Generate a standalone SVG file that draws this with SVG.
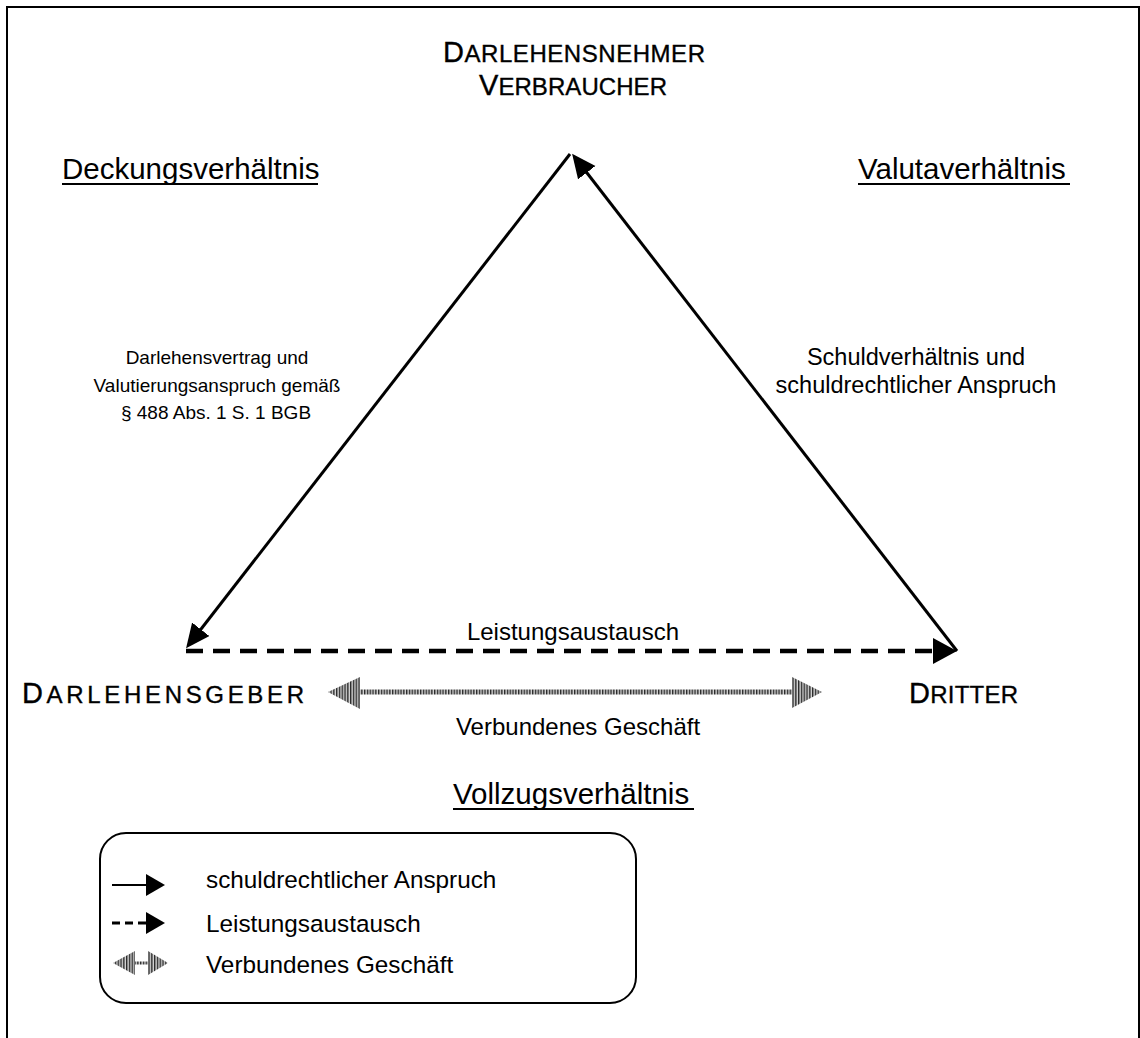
<svg xmlns="http://www.w3.org/2000/svg" width="1140" height="1038" viewBox="0 0 1140 1038">
  <style>
    text { font-family: "Liberation Sans", Arial, sans-serif; fill: #000; }
    .party { font-size: 24px; stroke: #000; stroke-width: 0.35; }
    .party .ini { font-size: 29px; }
    .heading { font-size: 29.5px; }
    .label { font-size: 19px; }
    .label-lg { font-size: 23.5px; }
    .mid { font-size: 24px; }
    .key { font-size: 24.3px; }
    .frame { fill: none; stroke: #000; stroke-width: 2; }
    .uline { stroke: #000; stroke-width: 2; }
    .claim { fill: none; stroke: #000; stroke-width: 3; }
    .exchange { fill: none; stroke: #000; stroke-width: 4.5; stroke-dasharray: 17 10; }
    .exchange-key { fill: none; stroke: #000; stroke-width: 3; stroke-dasharray: 8 5; }
    .link { fill: url(#stripes); }
  </style>
  <defs>
    <marker id="head" markerUnits="userSpaceOnUse" markerWidth="26" markerHeight="24" refX="16" refY="11" orient="auto">
      <path d="M0,0 L24,11 L0,22 Z" fill="#000"/>
    </marker>
    <marker id="head-wide" markerUnits="userSpaceOnUse" markerWidth="26" markerHeight="28" refX="16" refY="13" orient="auto">
      <path d="M0,0 L24,13 L0,26 Z" fill="#000"/>
    </marker>
    <marker id="head-key" markerUnits="userSpaceOnUse" markerWidth="20" markerHeight="24" refX="10" refY="11" orient="auto">
      <path d="M0,0 L19,11 L0,22 Z" fill="#000"/>
    </marker>
    <pattern id="stripes" patternUnits="userSpaceOnUse" width="2.8" height="10">
      <rect width="2.8" height="10" fill="#d4d4d4"/>
      <rect width="1.4" height="10" fill="#2a2a2a"/>
    </pattern>
  </defs>

  <!-- page frame (open at the bottom) -->
  <path class="frame" d="M7,1038 V7 H1139 V1038"/>

  <!-- connectors -->
  <g id="connectors">
    <!-- Darlehensnehmer -> Darlehensgeber -->
    <line class="claim" x1="570" y1="154" x2="191" y2="642" marker-end="url(#head)"/>
    <!-- Dritter -> Darlehensnehmer -->
    <line class="claim" x1="957" y1="651" x2="577" y2="160" marker-end="url(#head)"/>
    <!-- Leistungsaustausch -->
    <line class="exchange" x1="186" y1="651" x2="949" y2="651" marker-end="url(#head-wide)"/>
    <!-- verbundenes Geschäft -->
    <g id="linked-deal">
      <polygon class="link" points="328,692 360,677 360,709"/>
      <rect class="link" x="360" y="689.5" width="432" height="5"/>
      <polygon class="link" points="822,692 792,677 792,708"/>
    </g>
  </g>

  <!-- parties -->
  <g id="node-borrower">
    <text class="party" x="574" y="62" text-anchor="middle" textLength="262" lengthAdjust="spacing"><tspan class="ini">D</tspan>ARLEHENSNEHMER</text>
    <text class="party" x="573" y="95" text-anchor="middle" textLength="188" lengthAdjust="spacing"><tspan class="ini">V</tspan>ERBRAUCHER</text>
  </g>
  <g id="node-lender">
    <text class="party" x="22" y="703" textLength="282" lengthAdjust="spacing"><tspan class="ini">D</tspan>ARLEHENSGEBER</text>
  </g>
  <g id="node-third">
    <text class="party" x="909" y="703" textLength="109" lengthAdjust="spacing"><tspan class="ini">D</tspan>RITTER</text>
  </g>

  <!-- relationship headings -->
  <g id="heading-cover">
    <text class="heading" x="62" y="179">Deckungsverhältnis</text>
    <line class="uline" x1="62" y1="184" x2="318" y2="184"/>
  </g>
  <g id="heading-value">
    <text class="heading" x="858" y="179">Valutaverhältnis</text>
    <line class="uline" x1="858" y1="184" x2="1070" y2="184"/>
  </g>
  <g id="heading-execution">
    <text class="heading" x="453" y="804">Vollzugsverhältnis</text>
    <line class="uline" x1="453" y1="809" x2="694" y2="809"/>
  </g>

  <!-- connector labels -->
  <g id="label-loan">
    <text class="label" x="217" y="364" text-anchor="middle">Darlehensvertrag und</text>
    <text class="label" x="217" y="392" text-anchor="middle">Valutierungsanspruch gemäß</text>
    <text class="label" x="216" y="419" text-anchor="middle">§ 488 Abs. 1 S. 1 BGB</text>
  </g>
  <g id="label-debt">
    <text class="label-lg" x="916" y="365" text-anchor="middle">Schuldverhältnis und</text>
    <text class="label-lg" x="916" y="393" text-anchor="middle">schuldrechtlicher Anspruch</text>
  </g>
  <g id="label-exchange">
    <text class="mid" x="573" y="640" text-anchor="middle">Leistungsaustausch</text>
  </g>
  <g id="label-linked">
    <text class="mid" x="578" y="735" text-anchor="middle">Verbundenes Geschäft</text>
  </g>

  <!-- key -->
  <g id="legend">
    <rect class="frame" x="100" y="833" width="536" height="170" rx="26" ry="26"/>
    <line class="claim" x1="112" y1="885" x2="156" y2="885" marker-end="url(#head-key)" style="stroke-width:2"/>
    <text class="key" x="206" y="888">schuldrechtlicher Anspruch</text>
    <line class="exchange-key" x1="112" y1="923" x2="156" y2="923" marker-end="url(#head-key)"/>
    <text class="key" x="206" y="932">Leistungsaustausch</text>
    <polygon class="link" points="113,963 135,951 135,975"/>
    <rect class="link" x="135" y="961.5" width="13" height="3"/>
    <polygon class="link" points="168,963 148,951 148,975"/>
    <text class="key" x="206" y="973">Verbundenes Geschäft</text>
  </g>
</svg>
